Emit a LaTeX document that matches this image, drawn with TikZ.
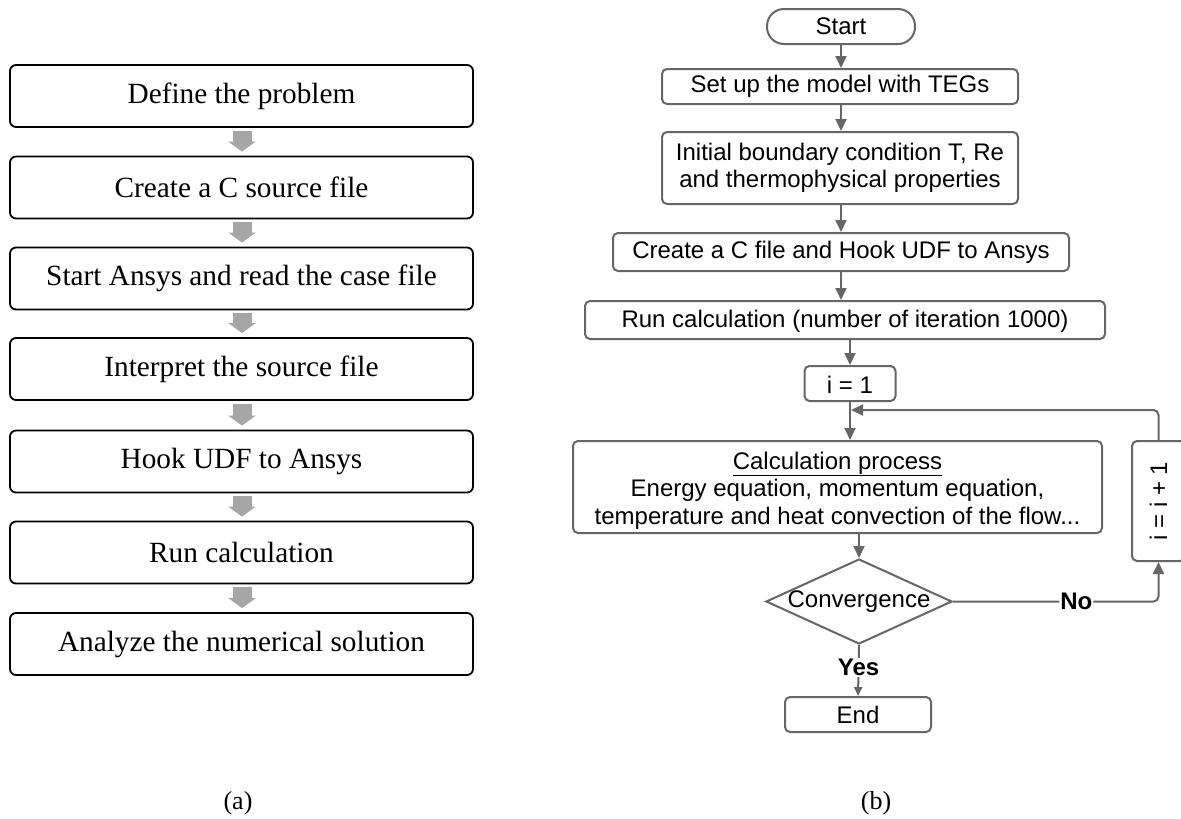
\documentclass[tikz,border=0pt]{standalone}
\usepackage{fontspec}
\usepackage{graphicx}
\setmainfont{Liberation Serif}
\newfontfamily\arialfont{Liberation Sans}
\usetikzlibrary{arrows.meta,shapes.geometric,calc}
\definecolor{lgray}{HTML}{A6A6A6}
\definecolor{dgray}{HTML}{666666}
\begin{document}
\begin{tikzpicture}[x=1pt,y=-1pt,
  lbox/.style={draw=black, line width=1.8pt, rounded corners=6pt, minimum width=463pt, minimum height=62pt, inner sep=0pt, font=\fontsize{29.3}{34}\selectfont},
  fat/.style={draw=lgray, line width=19pt, -{Triangle[width=27pt,length=10pt]}},
  rbox/.style={draw=dgray, line width=2pt, rounded corners=5pt, inner sep=0pt, align=center, font=\arialfont\fontsize{24}{27}\selectfont},
  conn/.style={draw=dgray, line width=2pt, -{Triangle[width=11pt,length=12pt]}},
  sconn/.style={draw=dgray, line width=2pt, -{Triangle[width=8pt,length=9pt]}},
  lbl/.style={font=\arialfont\bfseries\fontsize{24}{27}\selectfont, fill=white, inner sep=1pt},
  subcap/.style={font=\fontsize{26}{30}\selectfont}
]
\useasboundingbox (0,0) rectangle (1181,819);

% ---------- (a) ----------
\node[lbox] (l1) at (241.5,96)   {Define the problem};
\node[lbox] (l2) at (241.5,187.5) {Create a C source file};
\node[lbox] (l3) at (241.5,278.5) {Start Ansys and read the case file};
\node[lbox] (l4) at (241.5,369)  {Interpret the source file};
\node[lbox] (l5) at (241.5,461.5) {Hook UDF to Ansys};
\node[lbox] (l6) at (241.5,552.5) {Run calculation};
\node[lbox] (l7) at (241.5,644)  {Analyze the numerical solution};
\foreach \a/\b in {l1/l2,l2/l3,l3/l4,l4/l5,l5/l6,l6/l7}
  \draw[fat] ($(\a.south)+(0.5,3)$) -- ($(\b.north)+(0.5,-4)$);
\node[subcap] (capa) at (238,803) {(a)};

% ---------- (b) ----------
\node[rbox, minimum width=148pt, minimum height=35pt, rounded corners=17pt] (start) at (841,26.5) {Start};
\node[rbox, minimum width=356pt, minimum height=35pt] (setup) at (840,86.5) {Set up the model with TEGs};
\node[rbox, minimum width=356pt, minimum height=72pt] (init) at (840,168) {Initial boundary condition T, Re\\and thermophysical properties};
\node[rbox, minimum width=456pt, minimum height=38pt] (create) at (841,252) {Create a C file and Hook UDF to Ansys};
\node[rbox, minimum width=520pt, minimum height=38pt] (run) at (845,320) {\rule{0pt}{19pt}Run calculation (number of iteration 1000)};
\node[rbox, minimum width=91pt, minimum height=35pt] (i1) at (850,383.5) {\rule{0pt}{19pt}i = 1};
\node[rbox, minimum width=529pt, minimum height=92pt, font=\arialfont\fontsize{24}{27.5}\selectfont] (calc) at (837.5,487) {\rule{0pt}{24pt}\underline{Calculation process}\\Energy equation, momentum equation,\\temperature and heat convection of the flow...};
\node[draw=dgray, line width=2pt, diamond, minimum width=186pt, minimum height=85pt, inner sep=0pt] (dia) at (859,601.5) {};
\node[font=\arialfont\fontsize{24}{27}\selectfont] (conv) at (dia.center) {Convergence};
\node[rbox, minimum width=146pt, minimum height=35pt] (end) at (858,714.5) {\rule{0pt}{19pt}End};
\node[rbox, minimum width=53pt, minimum height=120pt] (ipp) at (1158.5,501) {\rotatebox{90}{i = i + 1}};
\node[subcap] (capb) at (876,803) {(b)};

\draw[conn] (start.south) -- (start.south |- setup.north);
\draw[conn] (start.south |- setup.south) -- (start.south |- init.north);
\draw[conn] (create.north |- init.south) -- (create.north);
\draw[conn] (create.south) -- (create.south |- run.north);
\draw[conn] (i1.north |- run.south) -- (i1.north);
\draw[conn] (i1.south) -- (i1.south |- calc.north);
\coordinate (fb) at ($(i1.south)+(1,8)$);
\draw[conn, rounded corners=5pt] (ipp.north) |- (fb);
\draw[conn] (dia.north |- calc.south) -- (dia.north);
\draw[sconn] (dia.south) -- node[lbl, yshift=3pt] {Yes} (end.north);
\draw[conn, rounded corners=5pt] (dia.east) -- node[lbl, pos=0.6] {No} (dia.east -| ipp.south) -- (ipp.south);
\end{tikzpicture}
\end{document}
